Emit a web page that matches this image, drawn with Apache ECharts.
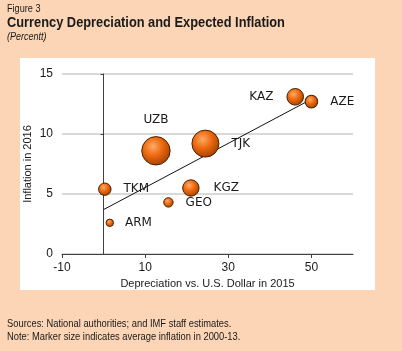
<!DOCTYPE html>
<html lang="en">
<head>
    <meta charset="UTF-8">
    <title>Currency Depreciation and Expected Inflation</title>
    <script src="https://cdn.jsdelivr.net/npm/echarts@6/dist/echarts.min.js"></script>
    <style>
        html, body {margin: 0; padding: 0; background: #fbd5b5;}
        #chart {width: 402px; height: 351px;}
    </style>
</head>
<body>
<div id="chart"></div>
<script>
    // data
    var countries = ['TKM', 'ARM', 'UZB', 'GEO', 'KGZ', 'TJK', 'KAZ', 'AZE'];
    var depreciation2015 = [0.3, 1.5, 12.6, 15.6, 21.0, 24.5, 46.1, 50.0];
    var inflation2016 = [5.4, 2.6, 8.6, 4.3, 5.5, 9.2, 13.1, 12.7];
    var avgInflation0013 = [6.2, 3.7, 14.2, 4.7, 8.2, 13.5, 8.3, 6.3];
    var trendX = [0, 50];
    var trendY = [3.7, 12.9];
    var xTicks = [-10, 10, 30, 50];

    var font = "'Liberation Sans', Arial, sans-serif";

    // where each bubble label sits
    var labelPlace = {
        TKM: ['right', 12], ARM: ['right', 11], UZB: ['top', 10], GEO: ['right', 12],
        KGZ: ['right', 14], TJK: ['right', 12], KAZ: ['left', 13], AZE: ['right', 12]
    };

    var bubbles = [];
    for (var i = 0; i < countries.length; i++) {
        var p = labelPlace[countries[i]];
        bubbles.push({
            name: countries[i],
            value: [depreciation2015[i], inflation2016[i], avgInflation0013[i]],
            label: {position: p[0], distance: p[1]}
        });
    }
    var trend = [];
    for (var j = 0; j < trendX.length; j++) {
        trend.push([trendX[j], trendY[j]]);
    }

    // narrow-looking text: no condensed face installed, so squeeze it
    function txt(x, y, s, f, sx) {
        return {type: 'text', x: x, y: y, scaleX: sx, style: {text: s, font: f, fill: '#1a1a1a'}};
    }

    var chart = echarts.init(document.getElementById('chart'));
    var option = {
        animation: false,
        backgroundColor: '#fbd5b5',
        graphic: [
            {type: 'rect', z: -10, shape: {x: 20, y: 58, width: 355, height: 232}, style: {fill: '#ffffff'}},
            txt(7, 3, 'Figure 3', '11px ' + font, 0.83),
            txt(7, 15, 'Currency Depreciation and Expected Inflation', 'bold 15px ' + font, 0.855),
            txt(7, 32, '(Percentt)', 'italic 10px ' + font, 0.9),
            txt(7, 318, 'Sources: National authorities; and IMF staff estimates.', '11px ' + font, 0.85),
            txt(7, 331, 'Note: Marker size indicates average inflation in 2000-13.', '11px ' + font, 0.85)
        ],
        grid: {left: 62, right: 49, top: 74, bottom: 97},
        xAxis: {
            type: 'value', min: -10, max: 60,
            name: 'Depreciation vs. U.S. Dollar in 2015', nameLocation: 'middle', nameGap: 24,
            nameTextStyle: {fontFamily: font, fontSize: 11, color: '#1a1a1a'},
            axisLine: {onZero: false, lineStyle: {color: '#404040', width: 1}},
            axisTick: {show: true, length: 4, customValues: xTicks, lineStyle: {color: '#404040'}},
            axisLabel: {customValues: xTicks, fontFamily: font, fontSize: 12, color: '#1a1a1a', margin: 8},
            splitLine: {show: false}
        },
        yAxis: [{
            type: 'value', min: 0, max: 15, interval: 5,
            name: 'Inflation in 2016', nameLocation: 'middle', nameGap: 29, nameMoveOverlap: false,
            nameTextStyle: {fontFamily: font, fontSize: 11, color: '#1a1a1a'},
            axisLine: {show: false, onZero: false},
            axisTick: {show: false},
            axisLabel: {fontFamily: font, fontSize: 12, color: '#1a1a1a', margin: 9},
            splitLine: {lineStyle: {color: '#d9d9d9', width: 2}}
        }, {
            // vertical axis line crossing at zero depreciation
            type: 'value', min: 0, max: 15, interval: 5, position: 'left',
            axisLine: {show: true, onZero: true, onZeroAxisIndex: 0, lineStyle: {color: '#404040', width: 1}},
            axisTick: {show: true, length: 3, lineStyle: {color: '#404040'}},
            axisLabel: {show: false},
            splitLine: {show: false}
        }],
        series: [{
            type: 'line',
            data: trend,
            symbol: 'none',
            z: 1,
            lineStyle: {color: '#111', width: 1}
        }, {
            type: 'scatter',
            data: bubbles,
            z: 3,
            symbolSize: function (v) { return v[2] * 2; },
            itemStyle: {
                color: new echarts.graphic.RadialGradient(0.4, 0.35, 0.7, [
                    {offset: 0, color: '#ffab66'},
                    {offset: 0.45, color: '#ee6a10'},
                    {offset: 1, color: '#9c3d00'}
                ]),
                borderColor: '#4a2200',
                borderWidth: 1,
                opacity: 1
            },
            label: {
                show: true,
                formatter: '{b}',
                fontFamily: "'DejaVu Sans', Tahoma, sans-serif",
                fontSize: 12,
                color: '#1a1a1a'
            }
        }]
    };
    chart.setOption(option);
</script>
</body>
</html>
